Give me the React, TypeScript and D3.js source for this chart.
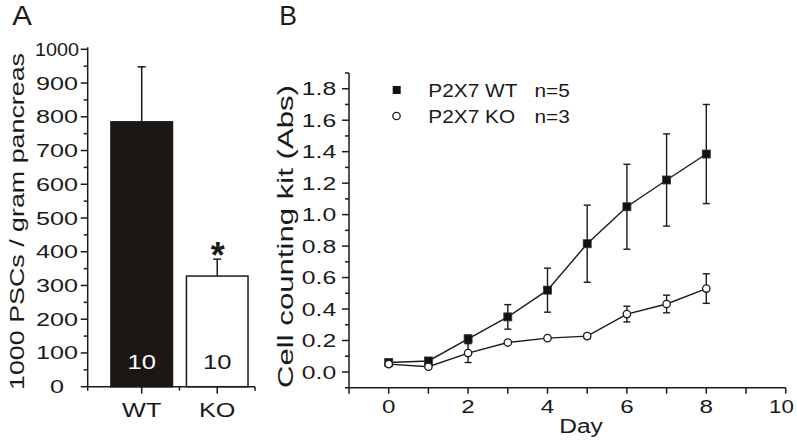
import React from "react";
import * as d3 from "d3";

// Panel A data
const groupsA = ["WT", "KO"];
const meansA = [785, 328];
const errA = [163, 50];
const nA = ["10", "10"];
const ticksA = [0, 100, 200, 300, 400, 500, 600, 700, 800, 900, 1000];

// Panel B data
const days = [0, 1, 2, 3, 4, 5, 6, 7, 8];
const wtMean = [0.06, 0.07, 0.21, 0.35, 0.52, 0.815, 1.05, 1.22, 1.385];
const wtErr = [0.01, 0.01, 0.025, 0.078, 0.14, 0.245, 0.27, 0.293, 0.315];
const koMean = [0.05, 0.033, 0.12, 0.187, 0.215, 0.228, 0.368, 0.432, 0.53];
const koErr = [0.008, 0.005, 0.06, 0.008, 0.008, 0.015, 0.05, 0.056, 0.094];
const xTicksB = [0, 2, 4, 6, 8, 10];
const yTicksB = [0, 0.2, 0.4, 0.6, 0.8, 1.0, 1.2, 1.4, 1.6, 1.8];
const legendLabels = ["P2X7 WT", "P2X7 KO"];
const legendN = ["n=5", "n=3"];

const FONT = "'Liberation Sans', Arial, sans-serif";
const INK = "#1a1a1a";

function T({ x, y, size, sx = 1, rot = 0, anchor = "middle", fill = INK, weight = "normal", children, textLength }: any) {
  return (
    <text
      transform={`translate(${x},${y}) rotate(${rot}) scale(${sx},1)`}
      fontSize={size}
      fontFamily={FONT}
      textAnchor={anchor}
      fill={fill}
      fontWeight={weight}
      textLength={textLength}
      lengthAdjust={textLength ? "spacingAndGlyphs" : undefined}
    >
      {children}
    </text>
  );
}

export default function App() {
  // Panel A scales
  const xA = d3.scaleLinear().domain([-0.715, 1.5]).range([87.7, 255]);
  const yA = d3.scaleLinear().domain([0, 1000]).range([386.7, 49.3]);
  const barW = xA(0.815) - xA(0);
  const minorA = d3.range(50, 1000, 100);

  // Panel B scales
  const xB = d3.scaleLinear().domain([-1, 10]).range([349, 785.7]);
  const yB = d3.scaleLinear().domain([-0.1, 1.9]).range([387.7, 73]);
  const line = d3.line<number>().x((_, i) => xB(days[i])).y((v) => yB(v));
  const minorB = d3.range(-1, 20, 1).map((v) => v / 10).filter((v) => Math.round(v * 10) % 2 !== 0);
  const xTickAll = d3.range(-1, 11, 1);

  return (
    <svg width={797} height={446} style={{ position: "absolute", left: 0, top: 0, background: "#fff" }}>
      <rect width={797} height={446} fill="#fff" />
      {/* Panel labels */}
      <T x={22} y={25} size={28} sx={1.05}>A</T>
      <T x={288} y={25} size={28} sx={0.95}>B</T>

      {/* ===== Panel A ===== */}
      <g stroke={INK} strokeWidth={1.5}>
        {groupsA.map((g, i) => (
          <g key={g}>
            <line x1={xA(i)} x2={xA(i)} y1={yA(meansA[i])} y2={yA(meansA[i] + errA[i])} />
            <line x1={xA(i) - 4} x2={xA(i) + 4} y1={yA(meansA[i] + errA[i])} y2={yA(meansA[i] + errA[i])} />
            <rect
              x={xA(i) - barW / 2}
              y={yA(meansA[i])}
              width={barW}
              height={yA(0) - yA(meansA[i])}
              fill={i === 0 ? "#1c1714" : "#fff"}
            />
          </g>
        ))}
        <line x1={xA.range()[0]} x2={xA.range()[0]} y1={yA(1000) - 2} y2={yA(0)} />
        <line x1={xA.range()[0]} x2={xA.range()[1]} y1={yA(0)} y2={yA(0)} />
        {ticksA.map((t) => (
          <line key={t} x1={xA.range()[0] - 7} x2={xA.range()[0]} y1={yA(t)} y2={yA(t)} />
        ))}
        {minorA.map((t) => (
          <line key={t} x1={xA.range()[0] - 4} x2={xA.range()[0]} y1={yA(t)} y2={yA(t)} />
        ))}
        {[-0.715, 0.5, 1.5].map((t) => (
          <line key={t} x1={xA(t)} x2={xA(t)} y1={yA(0)} y2={yA(0) + 4} />
        ))}
        {[0, 1].map((t) => (
          <line key={t} x1={xA(t)} x2={xA(t)} y1={yA(0)} y2={yA(0) + 7} />
        ))}
      </g>
      {ticksA.map((t) => (
        <T
          key={t}
          x={57}
          y={yA(t) + 6.5}
          size={18}
          sx={String(t).length > 3 ? 1 : 1.4}
          textLength={String(t).length > 3 ? 44 : undefined}
        >
          {String(t)}
        </T>
      ))}
      {groupsA.map((g, i) => (
        <T key={g} x={xA(i)} y={416.5} size={21} sx={1.2}>
          {g}
        </T>
      ))}
      {nA.map((n, i) => (
        <T key={i} x={xA(i)} y={369.3} size={20} sx={1.28} fill={i === 0 ? "#fff" : INK}>
          {n}
        </T>
      ))}
      <T x={xA(1) + 0.5} y={267.5} size={36} weight="bold">*</T>
      <T x={24} y={221.5} size={20.5} rot={-90} textLength={337}>
        1000 PSCs / gram pancreas
      </T>

      {/* ===== Panel B ===== */}
      <g stroke={INK} strokeWidth={1.5}>
        <line x1={xB(-1)} x2={xB(-1)} y1={yB(1.9)} y2={yB(-0.1)} />
        <line x1={xB(-1)} x2={xB(10)} y1={yB(-0.1)} y2={yB(-0.1)} />
        {yTicksB.map((t) => (
          <line key={t} x1={xB(-1) - 7} x2={xB(-1)} y1={yB(t)} y2={yB(t)} />
        ))}
        {minorB.map((t) => (
          <line key={t} x1={xB(-1) - 4} x2={xB(-1)} y1={yB(t)} y2={yB(t)} />
        ))}
        {xTickAll.map((t) => (
          <line key={t} x1={xB(t)} x2={xB(t)} y1={yB(-0.1)} y2={yB(-0.1) + 6} />
        ))}
      </g>
      {yTicksB.map((t) => (
        <T key={t} x={319} y={yB(t) + 6.7} size={18.6} sx={1.33}>
          {t.toFixed(1)}
        </T>
      ))}
      {xTicksB.map((t) => (
        <T key={t} x={Math.min(xB(t), 781.5)} y={413} size={18.6} sx={t >= 10 ? 1.2 : 1.3}>
          {String(t)}
        </T>
      ))}
      <T x={581} y={433} size={21} sx={1.17}>Day</T>
      <T x={293} y={236.5} size={22.5} rot={-90} textLength={303}>
        Cell counting kit (Abs)
      </T>

      {/* WT series */}
      <g stroke={INK} strokeWidth={1.4}>
        {days.map((d, i) => (
          <g key={d}>
            <line x1={xB(d)} x2={xB(d)} y1={yB(wtMean[i] - wtErr[i])} y2={yB(wtMean[i] + wtErr[i])} />
            <line x1={xB(d) - 3.5} x2={xB(d) + 3.5} y1={yB(wtMean[i] + wtErr[i])} y2={yB(wtMean[i] + wtErr[i])} />
            <line x1={xB(d) - 3.5} x2={xB(d) + 3.5} y1={yB(wtMean[i] - wtErr[i])} y2={yB(wtMean[i] - wtErr[i])} />
          </g>
        ))}
        <path d={line(wtMean) || ""} fill="none" />
      </g>
      {days.map((d, i) => (
        <rect key={d} x={xB(d) - 4} y={yB(wtMean[i]) - 4} width={8} height={8} fill="#111" stroke="#333" strokeWidth={0.8} />
      ))}
      {/* KO series */}
      <g stroke={INK} strokeWidth={1.4}>
        {days.map((d, i) => (
          <g key={d}>
            <line x1={xB(d)} x2={xB(d)} y1={yB(koMean[i] - koErr[i])} y2={yB(koMean[i] + koErr[i])} />
            <line x1={xB(d) - 3.5} x2={xB(d) + 3.5} y1={yB(koMean[i] + koErr[i])} y2={yB(koMean[i] + koErr[i])} />
            <line x1={xB(d) - 3.5} x2={xB(d) + 3.5} y1={yB(koMean[i] - koErr[i])} y2={yB(koMean[i] - koErr[i])} />
          </g>
        ))}
        <path d={line(koMean) || ""} fill="none" />
      </g>
      {days.map((d, i) => (
        <circle key={d} cx={xB(d)} cy={yB(koMean[i])} r={3.7} fill="#fff" stroke={INK} strokeWidth={1.3} />
      ))}

      {/* Legend */}
      <rect x={396.7 - 4} y={90 - 4} width={8} height={8} fill="#111" />
      <circle cx={396.5} cy={116} r={3.7} fill="#fff" stroke={INK} strokeWidth={1.3} />
      {legendLabels.map((l, i) => (
        <g key={l}>
          <T x={428.3} y={96.7 + i * 26.6} size={18.6} sx={1.12} anchor="start">
            {l}
          </T>
          <T x={534.5} y={96.7 + i * 26.6} size={18.6} sx={1.12} anchor="start">
            {legendN[i]}
          </T>
        </g>
      ))}
    </svg>
  );
}
